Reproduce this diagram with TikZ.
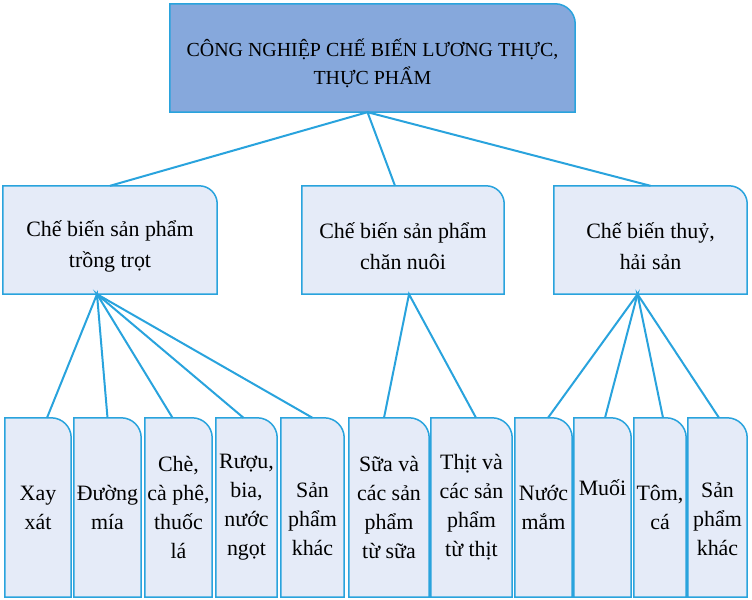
\documentclass[tikz,border=0pt]{standalone}
\usepackage{fontspec}
\setmainfont{Liberation Serif}
\usetikzlibrary{backgrounds}
\definecolor{topblue}{HTML}{86A8DC}
\definecolor{paleblue}{HTML}{E5EBF8}
\definecolor{linkblue}{HTML}{29A3DD}
\newcommand{\padtop}[1]{\rule{0pt}{#1}}
\newcommand{\padbot}[1]{\rule[-#1]{0pt}{0pt}}

\begin{document}
\begin{tikzpicture}[x=1bp,y=-1bp]
	\tikzstyle{head} = [align=center, inner sep=0pt, minimum height=108bp, font=\fontsize{20}{28}\selectfont]
	\tikzstyle{group} = [align=center, inner sep=0pt, minimum height=108bp, font=\fontsize{22}{31}\selectfont]
	\tikzstyle{item} = [align=center, inner sep=0pt, minimum height=179bp, font=\fontsize{22}{29}\selectfont]
	\tikzstyle{card} = [draw=linkblue, line width=1.5bp]
	\tikzstyle{edge} = [draw=linkblue, line width=2bp]
	\useasboundingbox (0,0) rectangle (752,600);
		\node[head, minimum width=405bp] (cn) at (372.5,58) {\padtop{28bp}CÔNG NGHIỆP CHẾ BIẾN LƯƠNG THỰC,\\THỰC PHẨM};
		\node[group, minimum width=214bp] (tt) at (110,240) {\padtop{29bp}Chế biến sản phẩm\\trồng trọt};
		\node[group, minimum width=202bp] (chn) at (403,240) {\padtop{29bp}Chế biến sản phẩm\\chăn nuôi};
		\node[group, minimum width=193bp] (ths) at (650.5,240) {\padtop{29bp}Chế biến thuỷ,\\hải sản};
		\node[item, minimum width=66bp] (xx) at (38,507.5) {Xay\\xát};
		\node[item, minimum width=67bp] (dm) at (107.5,507.5) {Đường\\mía};
		\node[item, minimum width=67bp] (che) at (178.5,507.5) {Chè,\\cà phê,\\thuốc\\lá};
		\node[item, minimum width=61bp] (ruou) at (246.5,507.5) {Rượu,\\bia,\\nước\\ngọt};
		\node[item, minimum width=63bp] (spk) at (312.5,507.5) {\padtop{38bp}Sản\\phẩm\\khác};
		\node[item, minimum width=80bp] (sua) at (389,507.5) {Sữa và\\các sản\\phẩm\\từ sữa};
		\node[item, minimum width=81bp] (thit) at (471.5,507.5) {Thịt và\\các sản\\phẩm\\từ thịt};
		\node[item, minimum width=57bp] (nm) at (543.5,507.5) {Nước\\mắm};
		\node[item, minimum width=57bp] (muoi) at (602.5,507.5) {Muối\padbot{40bp}};
		\node[item, minimum width=52bp] (tom) at (660,507.5) {Tôm,\\cá};
		\node[item, minimum width=59bp] (spkt) at (717.5,507.5) {\padtop{38bp}Sản\\phẩm\\khác};
	\begin{pgfonlayer}{background}
		\foreach \n/\c/\r in {cn/topblue/20, tt/paleblue/18, chn/paleblue/18, ths/paleblue/18, xx/paleblue/20, dm/paleblue/20, che/paleblue/20, ruou/paleblue/20, spk/paleblue/20, sua/paleblue/20, thit/paleblue/20, nm/paleblue/20, muoi/paleblue/20, tom/paleblue/20, spkt/paleblue/20}
			\filldraw[card, fill=\c] (\n.south west) -- (\n.north west) [rounded corners=\r bp] -- (\n.north east) [sharp corners] -- (\n.south east) -- cycle;
	\end{pgfonlayer}
	\coordinate (cnfoot) at ([xshift=-5bp]cn.south);
	\coordinate (ttfoot) at ([xshift=-13bp]tt.south);
	\coordinate (chnfoot) at ([xshift=6bp]chn.south);
	\coordinate (thsfoot) at ([xshift=-13bp]ths.south);
	\draw[edge] (tt.north) -- (cnfoot) -- ([xshift=-8bp]chn.north);
	\draw[edge] (cnfoot) -- (ths.north);
	\draw[edge] ([xshift=9bp]xx.north) -- (ttfoot) -- (dm.north);
	\draw[edge] ([xshift=-6bp]che.north) -- (ttfoot) -- ([xshift=-3bp]ruou.north);
	\draw[edge] (ttfoot) -- (spk.north);
	\draw[edge] ([xshift=-5bp]sua.north) -- (chnfoot) -- ([xshift=4.5bp]thit.north);
	\draw[edge] ([xshift=4.5bp]nm.north) -- (thsfoot) -- ([xshift=2.5bp]muoi.north);
	\draw[edge] ([xshift=3bp]tom.north) -- (thsfoot) -- ([xshift=1.5bp]spkt.north);
\end{tikzpicture}
\end{document}
